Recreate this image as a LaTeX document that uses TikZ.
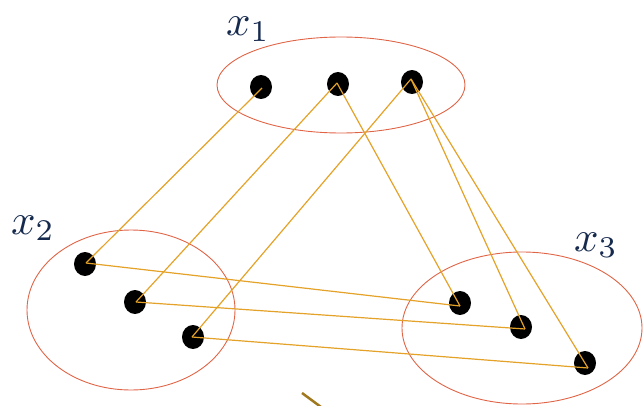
\documentclass[tikz,border=0pt]{standalone}
\usetikzlibrary{shapes.geometric}
\definecolor{ellred}{RGB}{224,100,70}
\definecolor{linegold}{RGB}{228,162,40}
\definecolor{labnavy}{RGB}{22,42,78}
\definecolor{stubbrown}{RGB}{160,120,30}
\tikzset{
  grp/.style={draw=ellred, line width=0.9pt},
  dot/.style={ellipse, fill=black, minimum width=22pt, minimum height=24pt, inner sep=0pt},
  link/.style={draw=linegold, line width=1.2pt},
  lab/.style={text=labnavy, inner sep=0pt}
}
\newcommand{\biglab}[1]{\scalebox{4.3}{$#1$}}
\begin{document}
\begin{tikzpicture}[x=1pt,y=-1pt]
\useasboundingbox (0,0) rectangle (644,406);
% groups
\draw[grp] (341,85) ellipse [x radius=124, y radius=48];
\draw[grp] (131,310) ellipse [x radius=104, y radius=80];
\draw[grp] (522,328) ellipse [x radius=120, y radius=76];
% labels
\node[lab] (l1) at (248,29) {\biglab{x_1}};
\node[lab] (l2) at (33,228) {\biglab{x_2}};
\node[lab] (l3) at (596,245) {\biglab{x_3}};
% dots
\node[dot] (a1) at (261,87) {};
\node[dot] (a2) at (338,84) {};
\node[dot] (a3) at (412,82) {};
\node[dot] (b1) at (85,264) {};
\node[dot] (b2) at (135,302) {};
\node[dot] (b3) at (193,337) {};
\node[dot] (c1) at (460,303) {};
\node[dot] (c2) at (521,327) {};
\node[dot] (c3) at (585,363) {};
% meeting points of the lines
\coordinate (pa1) at (262,88);
\coordinate (pa2) at (337,83);
\coordinate (pa3) at (411,79);
\coordinate (pb1) at (86,263);
\coordinate (pb2) at (136,302);
\coordinate (pb3) at (192,337);
\coordinate (pc1) at (460,306);
\coordinate (pc2) at (525,329);
\coordinate (pc3) at (588,368);
% links
\draw[link] (pa1) -- (pb1);
\draw[link] (pa2) -- (pb2);
\draw[link] (pa2) -- (pc1);
\draw[link] (pa3) -- (pb3);
\draw[link] (pa3) -- (pc2);
\draw[link] (pa3) -- (pc3);
\draw[link] (pb1) -- (pc1);
\draw[link] (pb2) -- (pc2);
\draw[link] (pb3) -- (pc3);
% stub at the bottom
\coordinate (s1) at (302,393);
\coordinate (s2) at (321,407);
\draw[stubbrown, line width=2.5pt] (s1) -- (s2);
\end{tikzpicture}
\end{document}
